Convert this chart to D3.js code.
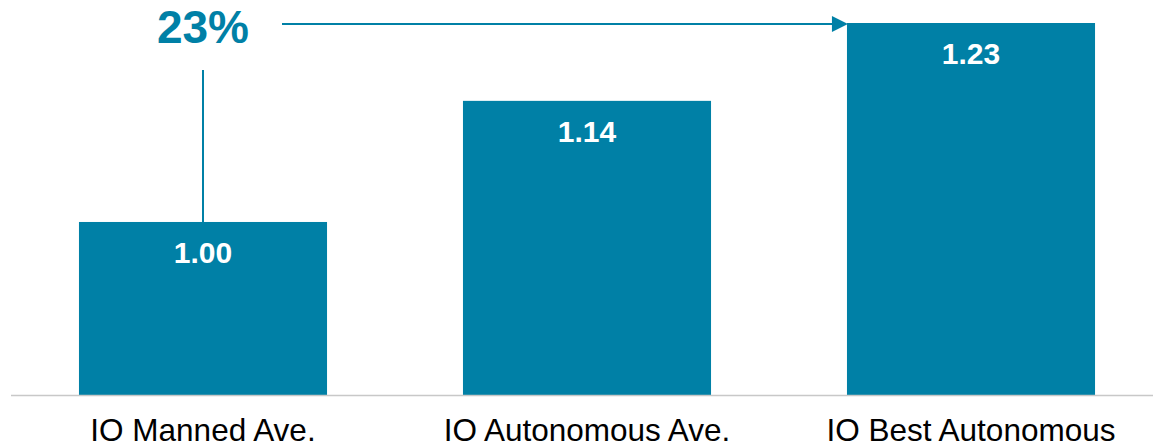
<!DOCTYPE html>
<html>
<head>
<meta charset="utf-8">
<script src="https://cdn.jsdelivr.net/npm/d3@7"></script>
<style>
  body { margin: 0; background: #fff; }
  svg { display: block; font-family: Arial, "Liberation Sans", sans-serif; }
</style>
</head>
<body>
<div id="chart"></div>
<script>
// data
const categories = ["IO Manned Ave.", "IO Autonomous Ave.", "IO Best Autonomous"];
const values = [1.00, 1.14, 1.23];
const valueLabels = ["1.00", "1.14", "1.23"];
const changeLabel = "23%";

const width = 1153;
const height = 448;
const teal = "#0080a6";

const svg = d3.select("#chart").append("svg")
  .attr("width", width)
  .attr("height", height);

// scales (axis does not start at zero)
const x = d3.scaleBand()
  .domain(categories)
  .range([11, 1163])
  .paddingInner(0.354)
  .paddingOuter(0.177);

const y = d3.scaleLinear()
  .domain([0.8, 1.23])
  .range([395, 23]);

// bars
svg.append("g")
  .selectAll("rect")
  .data(values)
  .enter().append("rect")
  .attr("x", (d, i) => x(categories[i]))
  .attr("y", d => y(d))
  .attr("width", x.bandwidth())
  .attr("height", d => y(0.8) - y(d))
  .attr("fill", teal);

// baseline
svg.append("line")
  .attr("x1", x.range()[0])
  .attr("x2", width)
  .attr("y1", y(0.8) + 0.5)
  .attr("y2", y(0.8) + 0.5)
  .attr("stroke", "#c8c8c8")
  .attr("stroke-width", 1.5);

// value labels inside bars
svg.append("g")
  .selectAll("text")
  .data(values)
  .enter().append("text")
  .attr("x", (d, i) => x(categories[i]) + x.bandwidth() / 2)
  .attr("y", d => y(d) + 41)
  .attr("text-anchor", "middle")
  .attr("fill", "#fff")
  .attr("font-weight", "bold")
  .attr("font-size", 30)
  .text((d, i) => valueLabels[i]);

// category labels
svg.append("g")
  .selectAll("text")
  .data(categories)
  .enter().append("text")
  .attr("x", d => x(d) + x.bandwidth() / 2)
  .attr("y", 441)
  .attr("text-anchor", "middle")
  .attr("fill", "#000")
  .attr("font-size", 31.5)
  .text(d => d);

// change annotation
const cx0 = x(categories[0]) + x.bandwidth() / 2;
const yTop = y(values[2]) + 1;

svg.append("text")
  .attr("x", cx0)
  .attr("y", 43)
  .attr("text-anchor", "middle")
  .attr("fill", teal)
  .attr("font-weight", "bold")
  .attr("font-size", 46)
  .text(changeLabel);

svg.append("line")
  .attr("x1", cx0)
  .attr("x2", cx0)
  .attr("y1", 70)
  .attr("y2", y(values[0]))
  .attr("stroke", teal)
  .attr("stroke-width", 2);

const arrowEnd = x(categories[2]);
svg.append("line")
  .attr("x1", 282)
  .attr("x2", arrowEnd - 14)
  .attr("y1", yTop)
  .attr("y2", yTop)
  .attr("stroke", teal)
  .attr("stroke-width", 2);

svg.append("path")
  .attr("d", `M${arrowEnd + 1},${yTop} L${arrowEnd - 15},${yTop - 8} L${arrowEnd - 15},${yTop + 8} Z`)
  .attr("fill", teal);
</script>
</body>
</html>
